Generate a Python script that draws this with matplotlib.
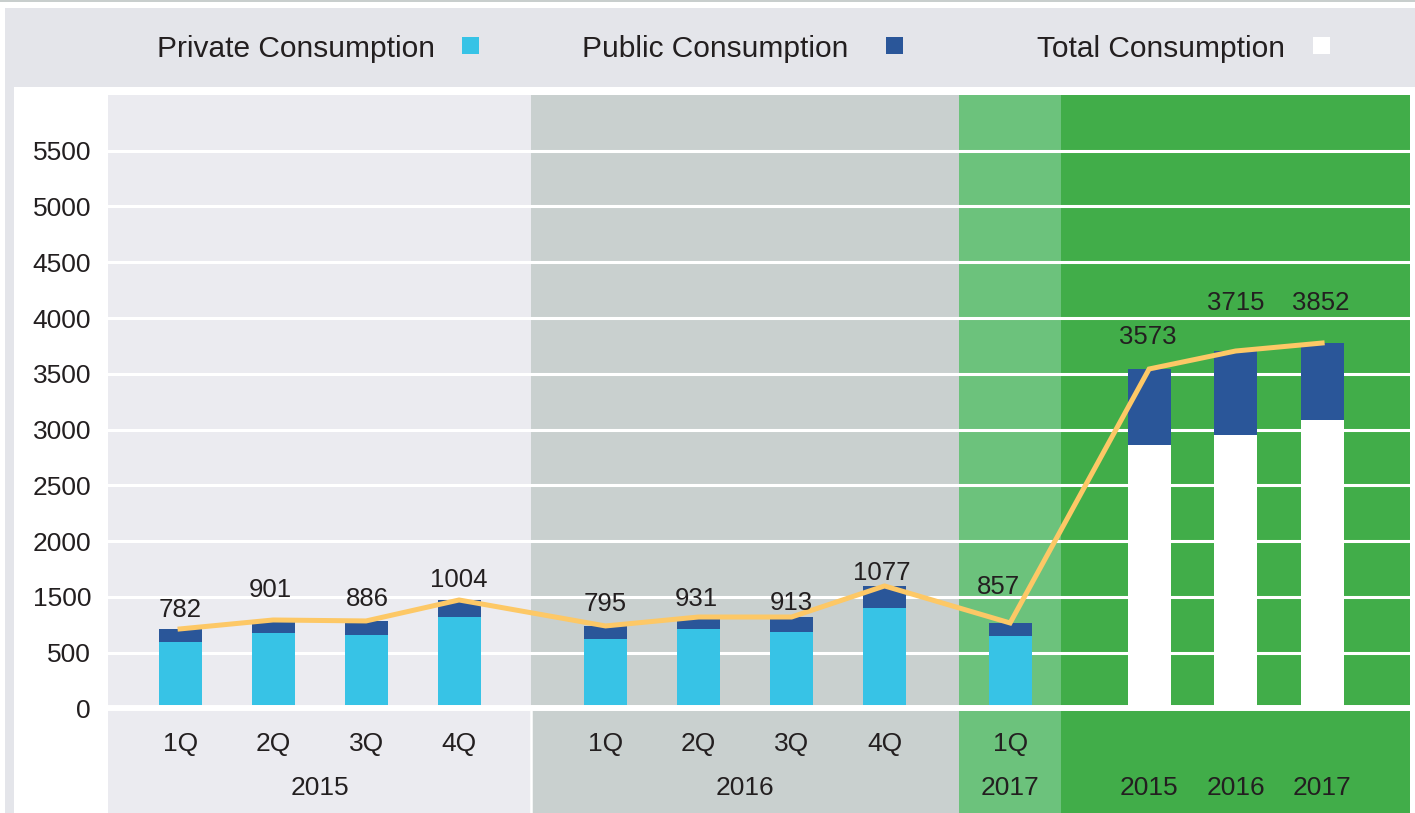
import matplotlib.pyplot as plt
from matplotlib.patches import Rectangle

plt.rcParams["font.family"] = ["Liberation Sans", "DejaVu Sans"]

# ── data ─────────────────────────────────────────────────────────────
group_names = ["2015", "2016", "2017", ""]
group_cats = [["1Q", "2Q", "3Q", "4Q"], ["1Q", "2Q", "3Q", "4Q"], ["1Q"], ["2015", "2016", "2017"]]

private_q = [691, 785, 764, 951, 723, 827, 795, 1045, 754]
public_q = [136, 135, 146, 177, 135, 124, 156, 229, 135]
total_base_a = [2740, 2844, 3000]
public_a = [790, 873, 800]
value_labels = ["782", "901", "886", "1004", "795", "931", "913", "1077", "857",
                "3573", "3715", "3852"]
ytick_labels = ["0", "500", "1500", "2000", "2500", "3000", "3500", "4000", "4500", "5000", "5500"]

# ── style ────────────────────────────────────────────────────────────
CYAN = "#37c3e6"
NAVY = "#2a5699"
LINE = "#fdc866"
TXT = "#231f20"
BAND = "#e4e5ea"
PANEL_COLORS = ["#ebebf0", "#c9d0cf", "#6cc27c", "#41ad49"]
PANEL_W = [4.55, 4.6, 1.1, 3.75]
PANEL_STEP = [1, 1, 1, 0.93]
BAR_W = 0.462
GRID_STEP = 580
# label offsets in px (baseline above bar top, and sideways)
LBL_DY = [12, 23, 15, 12.5, 14.5, 11, 7, 5.5, 29, 25, 41.5, 33.5]
LBL_DX = [0, -3, 1.5, 0, 0, -2, 0, -3, -12, -1.5, 0, -1.5]

W, H = 1415, 813


def fig_box(x0, y0, x1, y1):
    return [x0 / W, 1 - y1 / H, (x1 - x0) / W, (y1 - y0) / H]


fig = plt.figure(figsize=(W / 100, H / 100), dpi=100, facecolor="white")

# frame pieces
for (x0, y0, x1, y1), c in [((0, 0, 1415, 2), "#c8cecd"),
                             ((5, 8, 1415, 87), BAND),
                             ((5, 87, 14, 813), BAND)]:
    b = fig_box(x0, y0, x1, y1)
    fig.add_artist(Rectangle((b[0], b[1]), b[2], b[3], transform=fig.transFigure,
                             facecolor=c, edgecolor="none", zorder=0))

ax = fig.add_axes(fig_box(108, 95, 1410, 813))
for s in ax.spines.values():
    s.set_visible(False)

YMIN, YMAX = -1087, 6379
ax.set_ylim(YMIN, YMAX)
ax.set_xlim(0, sum(PANEL_W))

# x positions per panel, bars centred inside each panel
xs, centers, starts = [], [], []
start = 0
for w, cats, step in zip(PANEL_W, group_cats, PANEL_STEP):
    c = start + w / 2
    n = len(cats)
    xs += [c + (j - (n - 1) / 2) * step for j in range(n)]
    centers.append(c)
    starts.append(start)
    start += w

for st, w, col in zip(starts, PANEL_W, PANEL_COLORS):
    ax.axvspan(st, st + w, color=col, lw=0, zorder=0)

for k in range(1, len(ytick_labels)):
    ax.axhline(k * GRID_STEP, color="white", lw=2.2, zorder=1)

nq = len(private_q)
xq, xa = xs[:nq], xs[nq:]
ax.bar(xq, private_q, width=BAR_W, color=CYAN, zorder=2)
ax.bar(xq, public_q, bottom=private_q, width=BAR_W, color=NAVY, zorder=2)
ax.bar(xa, total_base_a, width=BAR_W, color="white", zorder=2)
ax.bar(xa, public_a, bottom=total_base_a, width=BAR_W, color=NAVY, zorder=2)

totals = [p + q for p, q in zip(private_q, public_q)] + [b + p for b, p in zip(total_base_a, public_a)]
ax.plot(xs, totals, color=LINE, lw=3.6, solid_joinstyle="miter", zorder=4)

# separator between plot and category rows
ax.axhline(0, color="white", lw=4.3, zorder=3)
ax.plot([PANEL_W[0], PANEL_W[0]], [YMIN, 0], color="white", lw=1.8, zorder=3)

for x, t, lab, dx, dy in zip(xs, totals, value_labels, LBL_DX, LBL_DY):
    ax.annotate(lab, (x, t), xytext=(dx * 0.72, dy * 0.72), textcoords="offset points",
                ha="center", va="baseline", fontsize=18.5, color=TXT, zorder=5)

# category rows
ROW1, ROW2 = -438, -902
i = 0
for gi, (name, cats) in enumerate(zip(group_names, group_cats)):
    for cat in cats:
        row = ROW1 if name else ROW2
        ax.text(xs[i], row, cat, ha="center", va="baseline", fontsize=19, color=TXT)
        i += 1
    if name:
        ax.text(centers[gi], ROW2, name, ha="center", va="baseline", fontsize=19, color=TXT)

ax.set_yticks([k * GRID_STEP for k in range(len(ytick_labels))], labels=ytick_labels)
ax.set_xticks([])
ax.tick_params(axis="y", length=0, pad=12.2, labelsize=19, labelcolor=TXT)

# legend band
legend_items = [("Private Consumption", CYAN, 435, 462),
                ("Public Consumption", NAVY, 848, 886),
                ("Total Consumption", "white", 1285, 1313)]
for text, col, tx, sx in legend_items:
    fig.text(tx / W, 1 - 57.3 / H, text, ha="right", va="baseline", fontsize=21.5, color=TXT)
    b = fig_box(sx, 37, sx + 17, 54)
    fig.add_artist(Rectangle((b[0], b[1]), b[2], b[3], transform=fig.transFigure,
                             facecolor=col, edgecolor="none", zorder=2))

fig.savefig("out.png", dpi=100, facecolor=fig.get_facecolor())
